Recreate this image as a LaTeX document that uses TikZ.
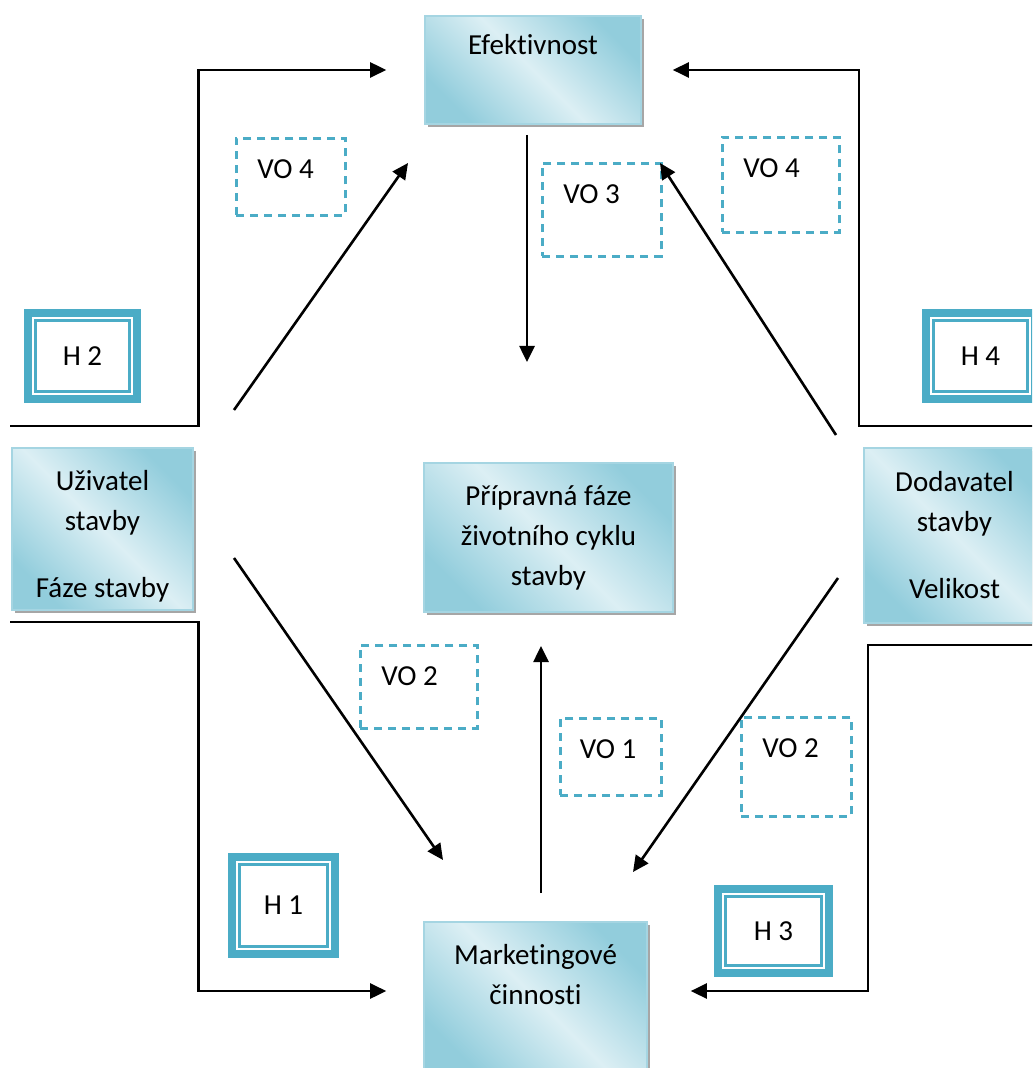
\documentclass[tikz,border=0pt]{standalone}
\usepackage{fontspec}
\setmainfont{Carlito}[Ligatures={NoCommon}]
\definecolor{hTeal}{RGB}{75,172,198}
\definecolor{phaseDark}{RGB}{146,205,220}
\definecolor{phaseLight}{RGB}{220,239,244}
\definecolor{phaseLine}{RGB}{165,213,226}
\usetikzlibrary{arrows.meta,shadows}

\begin{document}
\begin{tikzpicture}[x=0.5pt, y=-0.5pt,
    phase/.style={rectangle, draw=phaseLine, line width=0.8pt,
                  left color=phaseDark, right color=phaseDark, middle color=phaseLight,
                  shading angle=135, align=center, font=\fontsize{14.5}{20}\selectfont,
                  drop shadow={shadow xshift=1.3pt, shadow yshift=-1.3pt, fill=black!35, opacity=1}},
    hbox/.style={rectangle, fill=white, inner sep=0pt, font=\fontsize{14.5}{20}\selectfont,
                 preaction={draw=hTeal, line width=13.4pt},
                 preaction={draw=white, line width=5.4pt},
                 preaction={draw=hTeal, line width=2.6pt}},
    vo/.style={rectangle, draw=hTeal, line width=1.4pt, dash pattern=on 4pt off 3pt,
               anchor=north west, align=flush left, inner xsep=10.5pt, inner ysep=10pt,
               text height=10pt, font=\fontsize{14.5}{20}\selectfont},
    arr/.style={-{Triangle[length=8pt,width=7.5pt]}, line width=1.3pt}
  ]
  \useasboundingbox (0,0) rectangle (1032,1068);
  \clip (0,0) rectangle (1032,1068);

  \node[phase, minimum width=108pt, minimum height=54pt, text height=10pt, text depth=25.6pt]
    (efekt) at (533,70) {Efektivnost};
  \node[phase, minimum width=124.5pt, minimum height=74.5pt]
    (faze) at (548.5,537.5) {Přípravná fáze\\životního cyklu\\stavby};
  \node[phase, minimum width=111.5pt, minimum height=76pt, text height=10pt, text depth=4pt]
    (mark) at (535.5,998) {Marketingové\\činnosti};
  \node[phase, minimum width=90.5pt, minimum height=81pt, text height=68pt, text depth=0pt]
    (uziv) at (102.5,529) {Uživatel\\stavby\\[13.5pt]Fáze stavby};
  \node[phase, minimum width=90.5pt, minimum height=87.5pt]
    (dodav) at (954.5,535.5) {Dodavatel\\stavby\\[13.5pt]Velikost};

  \node[hbox, minimum width=45.5pt, minimum height=34pt] (h2) at (82.5,356) {H 2};
  \node[hbox, minimum width=42.5pt, minimum height=39.5pt] (h1) at (283.5,905.5) {H 1};
  \node[hbox, minimum width=46.5pt, minimum height=33pt] (h3) at (773.5,931) {H 3};
  \node[hbox, minimum width=45.5pt, minimum height=34pt] (h4) at (980.5,356) {H 4};

  \node[vo, text width=33.5pt, text depth=8.5pt] (vo4l) at (235,137) {VO 4};
  \node[vo, text width=38.5pt, text depth=16.5pt] (vo3) at (541,162) {VO 3};
  \node[vo, text width=37.5pt, text depth=17.5pt] (vo4r) at (721,136) {VO 4};
  \node[vo, text width=37.5pt, text depth=11.5pt] (vo2l) at (359,644) {VO 2};
  \node[vo, text width=31pt, inner xsep=9.75pt, text depth=8.5pt] (vo1) at (559,717) {VO 1};
  \node[vo, text width=34pt, text depth=19.5pt] (vo2r) at (740,716) {VO 2};

  \coordinate (inTL) at (10,426);
  \coordinate (inBL) at (10,622);
  \coordinate (inTR) at (1040,426);
  \coordinate (inBR) at (1040,645);
  \coordinate (efDownA) at (527,135);
  \coordinate (efDownB) at (527,362);
  \coordinate (mkUpA) at (541,893);
  \coordinate (mkUpB) at (541,646);
  \coordinate (uzUpA) at (234,410);
  \coordinate (uzUpB) at (408,163);
  \coordinate (uzDnA) at (234,558);
  \coordinate (uzDnB) at (443,860);
  \coordinate (doUpA) at (836,435);
  \coordinate (doUpB) at (660,163);
  \coordinate (doDnA) at (838,578);
  \coordinate (doDnB) at (633,872);

  \draw[arr] (inTL) -| ([xshift=-113pt]efekt.west) -- ([xshift=-19pt]efekt.west);
  \draw[arr] (inBL) -| ([xshift=-112.5pt,yshift=3.5pt]mark.west) -- ([xshift=-18.5pt,yshift=3.5pt]mark.west);
  \draw[arr] (inTR) -| ([xshift=108.5pt]efekt.east) -- ([xshift=15.5pt]efekt.east);
  \draw[arr] (inBR) -| ([xshift=110pt,yshift=3.5pt]mark.east) -- ([xshift=21.5pt,yshift=3.5pt]mark.east);

  \draw[arr] (efDownA) -- (efDownB);
  \draw[arr] (mkUpA) -- (mkUpB);
  \draw[arr] (uzUpA) -- (uzUpB);
  \draw[arr] (uzDnA) -- (uzDnB);
  \draw[arr] (doUpA) -- (doUpB);
  \draw[arr] (doDnA) -- (doDnB);
\end{tikzpicture}
\end{document}
